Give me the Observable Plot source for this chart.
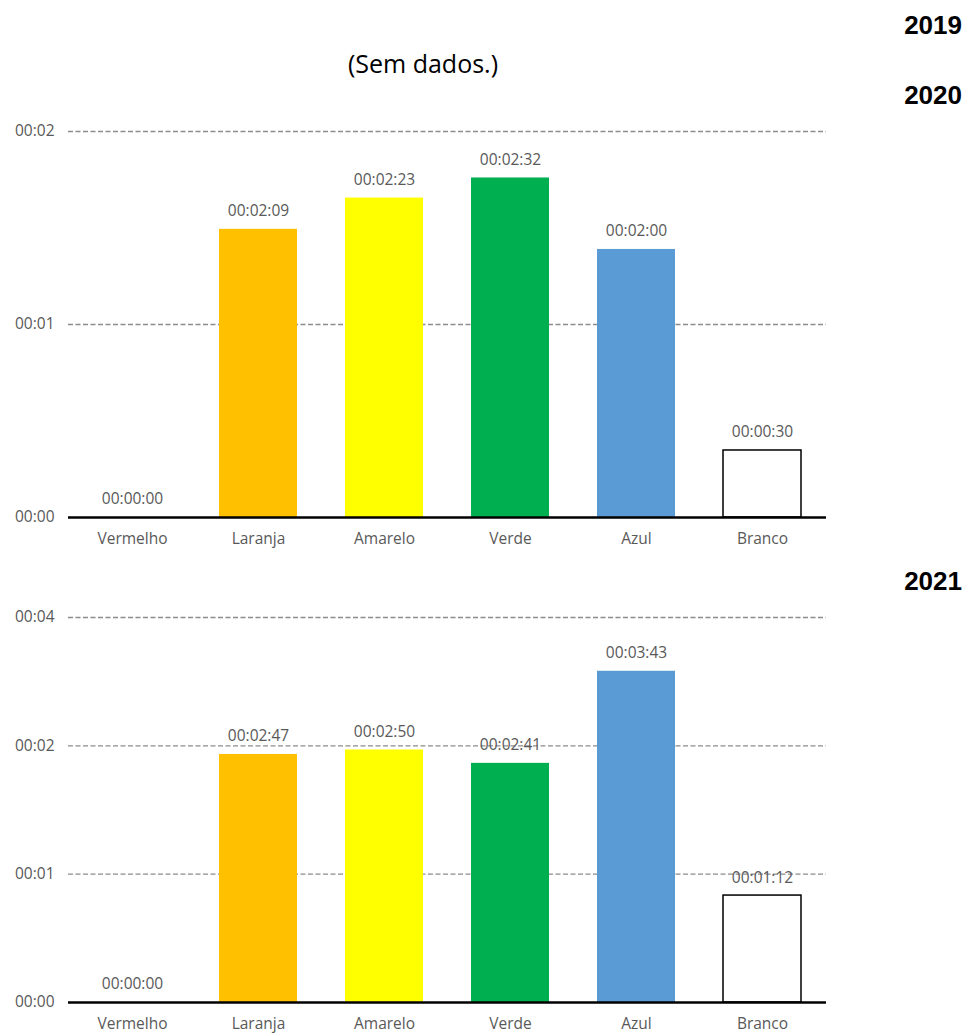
<!DOCTYPE html>
<html>
<head>
<meta charset="utf-8">
<script src="https://cdn.jsdelivr.net/npm/d3@7"></script>
<script src="https://cdn.jsdelivr.net/npm/@observablehq/plot@0.6"></script>
<style>
  html, body { margin: 0; padding: 0; background: #fff; }
  #wrap { position: relative; width: 970px; height: 1034px; overflow: hidden; background: #fff; }
  .year { position: absolute; right: 8px; z-index: 2; font-family: "Liberation Sans", Arial, sans-serif; font-weight: bold; font-size: 26px; line-height: 26px; color: #000; }
  .nodata { position: absolute; left: 273px; width: 300px; z-index: 2; text-align: center; font-family: "Open Sans", sans-serif; font-size: 25px; line-height: 25px; color: #000; }
  .chart { position: absolute; left: 0; z-index: 1; }
</style>
</head>
<body>
<div id="wrap">
  <div class="chart" id="c2020" style="top:100px"></div>
  <div class="chart" id="c2021" style="top:590px"></div>
  <div class="year" style="top:12px">2019</div>
  <div class="nodata" style="top:51px">(Sem dados.)</div>
  <div class="year" style="top:82px">2020</div>
  <div class="year" style="top:568px">2021</div>
</div>
<script>
// Data (durations in seconds)
const categories = ["Vermelho", "Laranja", "Amarelo", "Verde", "Azul", "Branco"];
const colors = ["#FF0000", "#FFC000", "#FFFF00", "#00B050", "#5B9BD5", "#FFFFFF"];
const values2020 = [0, 129, 143, 152, 120, 30];
const values2021 = [0, 167, 170, 161, 223, 72];
// Axis ticks as fractions of a day (Excel time units)
const ticksDays2020 = [0, 0.001, 0.002];
const ticksDays2021 = [0, 0.001, 0.002, 0.003];

const pad2 = n => String(n).padStart(2, "0");
const fmtHMS = s => {
  const t = Math.round(s);
  return `${pad2(Math.floor(t / 3600))}:${pad2(Math.floor((t % 3600) / 60))}:${pad2(t % 60)}`;
};
const fmtHM = s => {
  const m = Math.floor(s / 60 + 1e-9);
  return `${pad2(Math.floor(m / 60))}:${pad2(m % 60)}`;
};

const fontFamily = '"Open Sans", sans-serif';

function makeChart(values, ticksDays, opts) {
  const data = categories.map((c, i) => ({
    cat: c,
    value: values[i],
    fill: colors[i],
    stroke: c === "Branco" ? "#000000" : "none"
  }));
  const ticks = ticksDays.map(d => d * 86400);
  const top = ticks[ticks.length - 1];
  return Plot.plot({
    width: 970,
    height: opts.height,
    marginLeft: 68,
    marginRight: 144,
    marginTop: opts.marginTop,
    marginBottom: opts.marginBottom,
    style: { fontFamily, fontSize: "15.5px", color: "#595959", background: "transparent" },
    x: { domain: categories, paddingInner: 0.38, paddingOuter: 0.19, label: null },
    y: { domain: [0, top], label: null },
    color: { type: "identity" },
    marks: [
      Plot.ruleY(ticks.filter(t => t > 0), { stroke: "#8c8c8c", strokeWidth: 1.3, strokeDasharray: "5,2.5" }),
      Plot.barY(data, { x: "cat", y: "value", fill: "fill", stroke: "stroke", strokeWidth: 1.5 }),
      Plot.ruleY([0], { stroke: "#000", strokeWidth: 2.5 }),
      Plot.text(data, { x: "cat", y: "value", text: d => fmtHMS(d.value), lineAnchor: "middle", dy: -18, fill: "#595959", fontSize: 15.5 }),
      Plot.axisY({ ticks, tickFormat: fmtHM, tickSize: 0, tickPadding: 14, label: null, fill: "#595959", fontSize: 15.5 }),
      Plot.axisX({ tickSize: 0, tickPadding: 15, label: null, fill: "#595959", fontSize: 15.5 })
    ]
  });
}

document.getElementById("c2020").appendChild(
  makeChart(values2020, ticksDays2020, { height: 457, marginTop: 31, marginBottom: 40 })
);
document.getElementById("c2021").appendChild(
  makeChart(values2021, ticksDays2021, { height: 444, marginTop: 27, marginBottom: 32 })
);
</script>
</body>
</html>
